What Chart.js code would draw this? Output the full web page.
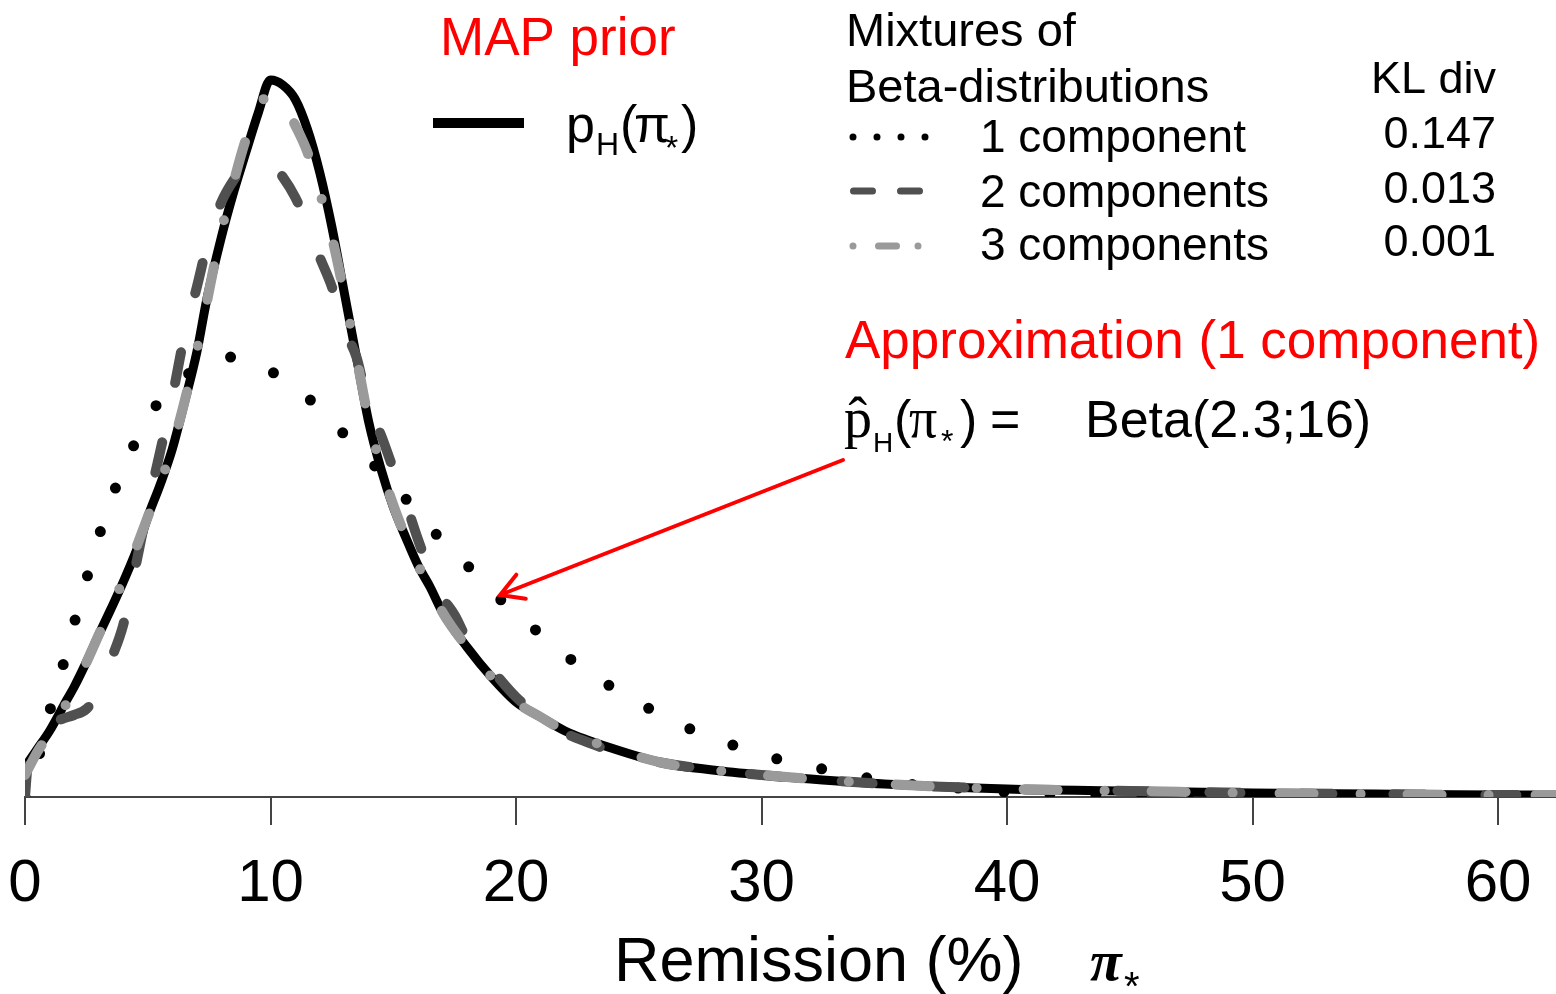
<!DOCTYPE html>
<html>
<head>
<meta charset="utf-8">
<script src="https://cdn.jsdelivr.net/npm/chart.js@4.4.1/dist/chart.umd.min.js"></script>
<style>
  html, body { margin: 0; padding: 0; background: #fff; }
  #wrap { width: 1556px; height: 994px; position: relative; }
</style>
</head>
<body>
<div id="wrap"><canvas id="chart-prior"></canvas></div>
<script>
// remission (%) on x, density (arbitrary units) on y
const xTicks = [0, 10, 20, 30, 40, 50, 60];

const priorX = [0, 0.5, 1, 1.7, 2, 2.5, 3, 3.5, 4, 4.7, 5, 5.5, 6, 6.5, 7, 7.4, 8, 8.5, 9, 9.5, 10, 10.5, 11, 11.5, 12, 12.5, 13, 13.5, 14, 14.5, 15, 15.5, 16, 16.5, 17, 18, 19, 20, 21, 22, 24, 26, 28, 30, 32, 35, 40, 45, 50, 55, 60, 62.4];
const priorY = [30, 48, 66, 97, 110, 135, 162, 188, 215, 257, 280, 312, 348, 395, 445, 497, 560, 605, 645, 684, 717, 712, 698, 668, 625, 570, 505, 440, 375, 328, 290, 260, 232, 210, 185, 150, 120, 95, 80, 66, 48, 34, 27, 22, 18, 13, 8, 6, 4, 3, 2, 2];

const oneCompX = [0, 0.5, 1.02, 1.55, 2.04, 2.53, 3.05, 3.67, 4.4, 5.3, 6.7, 8.27, 10.06, 11.53, 12.87, 14.13, 15.44, 16.66, 18, 19.3, 20.7, 22.1, 23.7, 25.3, 27, 28.7, 30.5, 32.3, 34.1, 36, 38, 40, 42, 45, 50, 55, 62.4];
const oneCompY = [0, 35, 87, 132, 177, 220, 264, 308, 350, 390, 424, 440, 425, 399, 366, 334, 300, 265, 232, 199, 169, 140, 113, 90, 69, 53, 39, 29, 20, 13, 9, 5, 3, 2, 1, 0.5, 0.3];

const twoCompX = [0, 0.1, 0.3, 0.6, 1, 1.5, 2, 2.5, 3, 3.5, 4, 4.5, 5, 5.5, 6, 6.5, 7, 7.5, 8, 8.5, 9, 9.5, 10, 10.5, 11, 11.5, 12, 12.5, 13, 13.5, 14, 14.5, 15, 15.5, 16, 16.5, 17, 17.5, 18, 19, 20, 21, 22, 23, 24, 26, 28, 30, 32, 35, 40, 45, 50, 55, 60, 62.4];
const twoCompY = [0, 30, 50, 64, 72, 78, 82, 88, 105, 137, 172, 230, 290, 345, 400, 462, 510, 560, 595, 617, 632, 638, 634, 620, 600, 572, 540, 510, 468, 440, 390, 362, 328, 295, 258, 225, 200, 182, 158, 128, 100, 80, 64, 54, 45, 34, 27, 22, 18, 13, 8, 6, 4, 3, 2, 2];

const threeCompX = [0, 0.5, 1, 2, 3, 4, 5, 6, 7, 8, 8.5, 9, 9.5, 10, 10.5, 11, 11.5, 12, 12.5, 13, 13.5, 14, 14.5, 15, 15.5, 16, 16.5, 17, 18, 19, 20, 21, 22, 24, 26, 28, 30, 32, 35, 40, 45, 50, 55, 60, 62.4];
const threeCompY = [22, 45, 64, 108, 162, 217, 280, 350, 447, 566, 615, 658, 690, 702, 695, 672, 645, 605, 560, 503, 440, 377, 330, 292, 260, 232, 210, 185, 150, 120, 95, 80, 66, 48, 34, 27, 22, 18, 13, 8, 6, 4, 3, 2, 2];

const componentLabels = ["1 component", "2 components", "3 components"];
const klDiv = ["0.147", "0.013", "0.001"];
const arrowTip = [19.35, 202];

const SANS = "'Liberation Sans', Arial, sans-serif";
const SERIF = "'Liberation Serif', 'Times New Roman', serif";

const toPoints = (xs, ys) => xs.map((x, i) => ({ x: x, y: ys[i] }));

const dataChartPrior = {
    datasets: [
        {
            label: "3 components",
            data: toPoints(threeCompX, threeCompY),
            borderColor: "#9a9a9a",
            borderWidth: 10,
            borderDash: [34, 47, 0, 47],
            order: 0,
        },
        {
            label: "2 components",
            data: toPoints(twoCompX, twoCompY),
            borderColor: "#505050",
            borderWidth: 10,
            borderDash: [31, 61],
            order: 1,
        },
        {
            label: "1 component",
            data: toPoints(oneCompX, oneCompY),
            borderColor: "#000",
            borderWidth: 11,
            borderDash: [0, 46],
            order: 2,
        },
        {
            label: "MAP prior",
            data: toPoints(priorX, priorY),
            borderColor: "#000",
            borderWidth: 9,
            order: 3,
        },
    ],
};

// draw pieces of a formula at fixed x positions
function drawPieces(ctx, y, parts) {
    parts.forEach(p => {
        ctx.font = p.f;
        ctx.fillText(p.t, p.x, y + (p.dy || 0));
    });
}

const annotate = {
    id: "annotate",
    afterDraw(chart) {
        const ctx = chart.ctx;
        const sx = chart.scales.x, sy = chart.scales.y;
        ctx.save();
        ctx.textBaseline = "alphabetic";
        ctx.textAlign = "left";

        // MAP prior block
        ctx.fillStyle = "#ff0000";
        ctx.font = "53px " + SANS;
        ctx.fillText("MAP prior", 440, 55);
        ctx.strokeStyle = "#000";
        ctx.lineWidth = 10;
        ctx.lineCap = "butt";
        ctx.beginPath(); ctx.moveTo(433, 123); ctx.lineTo(524, 123); ctx.stroke();
        ctx.fillStyle = "#000";
        drawPieces(ctx, 142, [
            { t: "p", x: 566, f: "52px " + SANS },
            { t: "H", x: 596, f: "32px " + SANS, dy: 13 },
            { t: "(", x: 620, f: "52px " + SANS },
            { t: "π", x: 634, f: "52px " + SANS },
            { t: "*", x: 665, f: "34px " + SANS, dy: 17 },
            { t: ")", x: 681, f: "52px " + SANS },
        ]);

        // mixtures legend
        ctx.font = "47px " + SANS;
        ctx.fillText("Mixtures of", 846, 46);
        ctx.fillText("Beta-distributions", 846, 102);
        ctx.font = "46px " + SANS;
        const rows = [152, 207, 260];
        componentLabels.forEach((t, i) => ctx.fillText(t, 980, rows[i]));
        ctx.textAlign = "right";
        ctx.font = "45px " + SANS;
        ctx.fillText("KL div", 1496, 93);
        klDiv.forEach((t, i) => ctx.fillText(t, 1496, rows[i] - 4));
        ctx.textAlign = "left";

        ctx.lineCap = "round";
        ctx.lineWidth = 7;
        ctx.strokeStyle = "#000";
        ctx.setLineDash([0, 24]);
        ctx.beginPath(); ctx.moveTo(853, 137); ctx.lineTo(926, 137); ctx.stroke();
        ctx.strokeStyle = "#505050";
        ctx.setLineDash([19, 28]);
        ctx.beginPath(); ctx.moveTo(853.5, 191); ctx.lineTo(920, 191); ctx.stroke();
        ctx.strokeStyle = "#9a9a9a";
        ctx.setLineDash([0, 25.5, 18, 21.5, 0, 100]);
        ctx.beginPath(); ctx.moveTo(853, 246); ctx.lineTo(919, 246); ctx.stroke();
        ctx.setLineDash([]);

        // approximation
        ctx.fillStyle = "#ff0000";
        ctx.font = "53px " + SANS;
        ctx.fillText("Approximation (1 component)", 845, 358);
        ctx.fillStyle = "#000";
        drawPieces(ctx, 437, [
            { t: "p\u0302", x: 844, f: "56px " + SERIF },
            { t: "H", x: 873, f: "28px " + SANS, dy: 15 },
            { t: "(", x: 894, f: "52px " + SANS },
            { t: "π", x: 909, f: "56px " + SERIF },
            { t: "*", x: 941, f: "32px " + SANS, dy: 15 },
            { t: ")", x: 960, f: "52px " + SANS },
            { t: "=", x: 990, f: "52px " + SANS },
        ]);
        ctx.font = "52px " + SANS;
        ctx.fillText("Beta(2.3;16)", 1085, 437);

        // arrow pointing at the 1-component curve
        const tx = sx.getPixelForValue(arrowTip[0]);
        const ty = sy.getPixelForValue(arrowTip[1]);
        const fx = 843, fy = 460;
        const ang = Math.atan2(fy - ty, fx - tx);
        ctx.strokeStyle = "#ff0000";
        ctx.lineWidth = 4;
        ctx.lineCap = "round";
        ctx.beginPath();
        ctx.moveTo(fx, fy); ctx.lineTo(tx, ty);
        ctx.moveTo(tx + 26 * Math.cos(ang - 0.52), ty + 26 * Math.sin(ang - 0.52));
        ctx.lineTo(tx, ty);
        ctx.lineTo(tx + 26 * Math.cos(ang + 0.52), ty + 26 * Math.sin(ang + 0.52));
        ctx.stroke();

        // axis title
        ctx.fillStyle = "#000";
        ctx.font = "63px " + SANS;
        ctx.fillText("Remission (%)", 614, 981);
        ctx.font = "italic bold 58px " + SERIF;
        ctx.fillText("π", 1090, 980);
        ctx.font = "40px " + SANS;
        ctx.fillText("*", 1124, 1000);

        ctx.restore();
    },
};

const configPrior = {
    type: "line",
    data: dataChartPrior,
    options: {
        responsive: true,
        maintainAspectRatio: false,
        animation: false,
        layout: { padding: { left: 25, right: 0, top: 0, bottom: 0 } },
        elements: {
            point: { radius: 0 },
            line: {
                cubicInterpolationMode: "monotone",
                borderCapStyle: "round",
                borderJoinStyle: "round",
                fill: false,
            },
        },
        scales: {
            x: {
                type: "linear",
                min: 0,
                max: 62.36,
                afterBuildTicks: s => { s.ticks = xTicks.map(v => ({ value: v })); },
                afterFit: s => {
                    s.height = 197;
                    s.paddingLeft = 0;
                    s.paddingRight = 0;
                },
                ticks: {
                    autoSkip: false,
                    maxRotation: 0,
                    color: "#000",
                    padding: 23,
                    font: { size: 60, family: SANS },
                },
                grid: {
                    drawOnChartArea: false,
                    drawTicks: true,
                    tickLength: 28,
                    color: "#444",
                    lineWidth: 2,
                },
                border: { display: true, color: "#444", width: 2 },
            },
            y: { display: false, min: 0, max: 797 },
        },
        plugins: {
            legend: { display: false },
            tooltip: { enabled: false },
        },
    },
    plugins: [annotate],
};

new Chart(document.getElementById("chart-prior"), configPrior);
</script>
</body>
</html>
